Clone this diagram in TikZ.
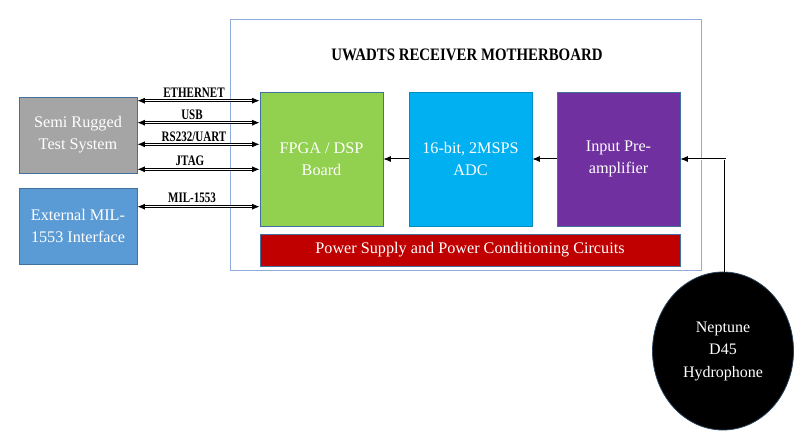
\documentclass[tikz,border=0pt]{standalone}
\usepackage{fontspec}
\setmainfont{Liberation Serif}
\usetikzlibrary{arrows.meta,shapes.geometric}
\definecolor{cgray}{HTML}{A5A5A5}
\definecolor{cblue}{HTML}{5B9BD5}
\definecolor{cgreen}{HTML}{92D050}
\definecolor{ccyan}{HTML}{00B0F0}
\definecolor{cpurple}{HTML}{7030A0}
\definecolor{cred}{HTML}{C00000}
\definecolor{cedge}{HTML}{41719C}
\definecolor{cframe}{HTML}{8FAADC}
\newcommand{\cond}[1]{\scalebox{0.76}[1]{#1}}
\tikzset{
  blk/.style={draw=cedge, line width=0.8pt, text=white, align=center, inner sep=0pt,
    font=\fontsize{16.2}{22}\selectfont},
  conn/.style={double, double distance=0.9pt, line width=0.8pt,
    {Latex[length=7.5pt,width=6pt]}-{Latex[length=7.5pt,width=6pt]}},
  oneway/.style={double, double distance=0.9pt, line width=0.8pt,
    -{Latex[length=7.5pt,width=6pt]}},
  lbl/.style={font=\fontsize{14.5}{16}\selectfont\bfseries, inner sep=0pt, anchor=base}
}
\begin{document}
\begin{tikzpicture}[x=1pt,y=-1pt]
\useasboundingbox (0,0) rectangle (800,443);
% frame
\node[draw=cframe, line width=1pt, minimum width=471pt, minimum height=251pt, inner sep=0pt] (frame) at (465.5,145.5) {};
\node[font=\fontsize{17.5}{20}\selectfont\bfseries] (title) at (467,55) {\scalebox{0.85}[1]{UWADTS RECEIVER MOTHERBOARD}};
% left boxes
\node[blk, fill=cgray, minimum width=118pt, minimum height=76pt] (semi) at (78,135) {Semi Rugged\\Test System};
\node[blk, fill=cblue, minimum width=118pt, minimum height=76pt] (ext) at (78,226) {External MIL-\\1553 Interface};
% inner boxes
\node[blk, fill=cgreen, minimum width=123pt, minimum height=134pt] (fpga) at (321.5,159) {FPGA / DSP\\Board};
\node[blk, fill=ccyan, draw=ccyan!80!black, minimum width=123pt, minimum height=134pt] (adc) at (470.5,159) {16-bit, 2MSPS\\ADC};
\node[blk, fill=cpurple, minimum width=123pt, minimum height=134pt] (pre) at (618.5,159) {Input Pre-\\amplifier};
\node[blk, fill=cred, minimum width=420pt, minimum height=32pt] (pwr) at (470,250) {Power Supply and Power Conditioning Circuits};
% hydrophone
\node[ellipse, fill=black, draw=cedge!60!black, line width=0.8pt, minimum width=141pt, minimum height=158pt, inner sep=0pt,
  text=white, align=center, font=\fontsize{16}{22.5}\selectfont] (hyd) at (723,351) {Neptune\\D45\\Hydrophone};
% coordinates
\coordinate (y1) at (0,100.7);
\coordinate (y2) at (0,122.7);
\coordinate (y3) at (0,144.3);
\coordinate (y4) at (0,169.3);
\coordinate (y5) at (0,206.7);
\coordinate (ysig) at (0,159);
\coordinate (xh) at (725,0);
% left connectors
\draw[conn] (semi.east |- y1) -- (fpga.west |- y1);
\draw[conn] (semi.east |- y2) -- (fpga.west |- y2);
\draw[conn] (semi.east |- y3) -- (fpga.west |- y3);
\draw[conn] (semi.east |- y4) -- (fpga.west |- y4);
\draw[conn] (ext.east |- y5) -- (fpga.west |- y5);
\node[lbl] (l1) at (194,97.3) {\cond{ETHERNET}};
\node[lbl] (l2) at (192,120) {\cond{USB}};
\node[lbl] (l3) at (194,141.5) {\cond{RS232/UART}};
\node[lbl] (l4) at (190,165.8) {\cond{JTAG}};
\node[lbl] (l5) at (192,202.3) {\cond{MIL-1553}};
% signal chain
\draw[oneway] (adc.west |- ysig) -- (fpga.east |- ysig);
\draw[oneway] (pre.west |- ysig) -- (adc.east |- ysig);
\draw[oneway] (hyd.north -| xh) -- (xh |- ysig) -- (pre.east |- ysig);
\end{tikzpicture}
\end{document}
